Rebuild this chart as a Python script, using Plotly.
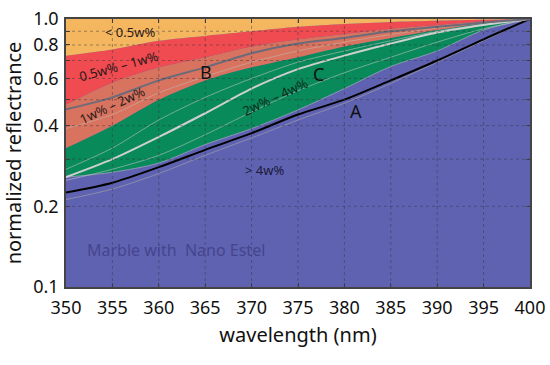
import plotly.graph_objects as go

# wavelength (nm)
wavelength = [350, 355, 360, 365, 370, 375, 380, 385, 390, 395, 400]

# band boundaries (normalized reflectance)
top_bound     = [1.0, 1.0, 1.0, 1.0, 1.0, 1.0, 1.0, 1.0, 1.0, 1.0, 1.0]
orange_bottom = [0.73, 0.77, 0.83, 0.865, 0.90, 0.935, 0.958, 0.975, 0.985, 0.993, 1.0]
red_bottom    = [0.48, 0.58, 0.66, 0.72, 0.79, 0.84, 0.88, 0.92, 0.95, 0.98, 1.0]
green_top     = [0.33, 0.40, 0.50, 0.59, 0.66, 0.72, 0.79, 0.85, 0.91, 0.965, 1.0]
green_bottom  = [0.257, 0.268, 0.29, 0.34, 0.39, 0.458, 0.55, 0.665, 0.76, 0.91, 1.0]

# measured curves
curve_A     = [0.225, 0.245, 0.28, 0.325, 0.375, 0.44, 0.50, 0.59, 0.70, 0.84, 1.0]
curve_A_low = [0.212, 0.232, 0.265, 0.31, 0.36, 0.42, 0.485, 0.575, 0.69, 0.83, 1.0]
curve_B     = [0.46, 0.51, 0.59, 0.66, 0.745, 0.81, 0.85, 0.90, 0.935, 0.97, 1.0]
curve_S     = [0.39, 0.44, 0.53, 0.61, 0.69, 0.76, 0.82, 0.875, 0.925, 0.97, 1.0]
curve_C     = [0.257, 0.30, 0.363, 0.445, 0.55, 0.65, 0.73, 0.81, 0.89, 0.95, 1.0]
curve_C_up  = [0.275, 0.33, 0.42, 0.51, 0.60, 0.69, 0.76, 0.83, 0.90, 0.955, 1.0]
curve_C_low = [0.25, 0.275, 0.31, 0.37, 0.45, 0.54, 0.63, 0.72, 0.82, 0.92, 1.0]

y_tickvals = [0.1, 0.2, 0.3, 0.4, 0.5, 0.6, 0.7, 0.8, 0.9, 1.0]
y_ticktext = ["0.1", "0.2", "", "0.4", "", "0.6", "", "0.8", "", "1.0"]
x_tickvals = [350, 355, 360, 365, 370, 375, 380, 385, 390, 395, 400]

C_ORANGE = "#F5B660"
C_RED = "#F04B50"
C_SALMON = "#D8735F"
C_GREEN = "#088A5B"
C_BLUE = "#5F62B1"

FONT = "Noto Sans"

fig = go.Figure()

def band(y, color, fill):
    fig.add_trace(go.Scatter(x=wavelength, y=y, mode="lines",
                             line=dict(width=0, shape="spline", smoothing=0.8),
                             fill=fill, fillcolor=color, hoverinfo="skip",
                             showlegend=False))

band(green_bottom, C_GREEN, "none")
band(green_top, C_GREEN, "tonexty")
band(red_bottom, C_SALMON, "tonexty")
band(orange_bottom, C_RED, "tonexty")
band(top_bound, C_ORANGE, "tonexty")

def curve(y, color, width):
    fig.add_trace(go.Scatter(x=wavelength, y=y, mode="lines",
                             line=dict(color=color, width=width, shape="spline", smoothing=0.8),
                             hoverinfo="skip", showlegend=False))

curve(curve_A_low, "rgba(150,150,170,0.8)", 1)
curve(green_bottom, "rgba(170,170,190,0.7)", 1)
curve(curve_C_low, "rgba(200,200,200,0.55)", 1)
curve(curve_C_up, "rgba(200,200,200,0.55)", 1)
curve(curve_S, "rgba(200,180,170,0.6)", 1)
curve(curve_A, "#000000", 2)
curve(curve_C, "#CFCFCF", 2)
curve(curve_B, "#6B6B7A", 2)

# dashed gridlines drawn above the filled bands
shapes = []
for xv in x_tickvals[1:-1]:
    shapes.append(dict(type="line", xref="x", yref="paper", x0=xv, x1=xv, y0=0, y1=1,
                       line=dict(color="rgba(50,50,60,0.45)", width=1, dash="3px,3px"),
                       layer="above"))
for yv in y_tickvals[1:-1]:
    shapes.append(dict(type="line", xref="paper", yref="y", x0=0, x1=1, y0=yv, y1=yv,
                       line=dict(color="rgba(50,50,60,0.45)", width=1, dash="3px,3px"),
                       layer="above"))

band_font = dict(family=FONT, size=13, color="#2a1a1a")
ann = [
    dict(text="< 0.5w%", x=356.9, y=-0.048, textangle=0, font=band_font),
    dict(text="0.5w% – 1w%", x=355.7, y=-0.175, textangle=-15, font=band_font),
    dict(text="1w% – 2w%", x=355.0, y=-0.321, textangle=-25, font=band_font),
    dict(text="2w% – 4w%", x=372.5, y=-0.291, textangle=-25, font=dict(family=FONT, size=13, color="#0a2a1a")),
    dict(text="> 4w%", x=371.4, y=-0.563, textangle=0, font=dict(family=FONT, size=13, color="#1a1a3a")),
    dict(text="B", x=365.1, y=-0.198, textangle=0, font=dict(family=FONT, size=18, color="#111")),
    dict(text="C", x=377.2, y=-0.205, textangle=0, font=dict(family=FONT, size=18, color="#111")),
    dict(text="A", x=381.25, y=-0.343, textangle=0, font=dict(family=FONT, size=18, color="#111")),
    dict(text="Marble with  Nano Estel", x=361.85, y=-0.862, textangle=0,
         font=dict(family=FONT, size=16, color="#45458E")),
]
for a in ann:
    a.update(xref="x", yref="y", showarrow=False)

fig.update_layout(
    width=550, height=365,
    margin=dict(l=66, r=20, t=19, b=78, autoexpand=False),
    paper_bgcolor="white",
    plot_bgcolor=C_BLUE,
    font=dict(family=FONT, color="#111"),
    shapes=shapes,
    annotations=ann,
    xaxis=dict(range=[350, 400], tickvals=x_tickvals, showgrid=False, zeroline=False,
               showline=True, linecolor="#444", linewidth=1.5, mirror="ticks",
               ticks="inside", ticklen=4, tickcolor="#444", layer="above traces",
               automargin=False, ticklabelstandoff=4,
               tickfont=dict(family=FONT, size=18, color="#111"),
               title=dict(text="wavelength (nm)", font=dict(family=FONT, size=20, color="#111"), standoff=10)),
    yaxis=dict(type="log", range=[-1, 0], tickvals=y_tickvals, ticktext=y_ticktext,
               showgrid=False, zeroline=False,
               showline=True, linecolor="#444", linewidth=1.5, mirror="ticks",
               ticks="inside", ticklen=4, tickcolor="#444", layer="above traces",
               automargin=False, ticklabelstandoff=2,
               tickfont=dict(family=FONT, size=18, color="#111"),
               title=dict(text="normalized reflectrance", font=dict(family=FONT, size=20, color="#111"), standoff=8)),
)

fig.write_html("out.html", config={"displayModeBar": False},
               post_script="document.body.style.margin='0px';document.body.style.overflow='hidden';")
